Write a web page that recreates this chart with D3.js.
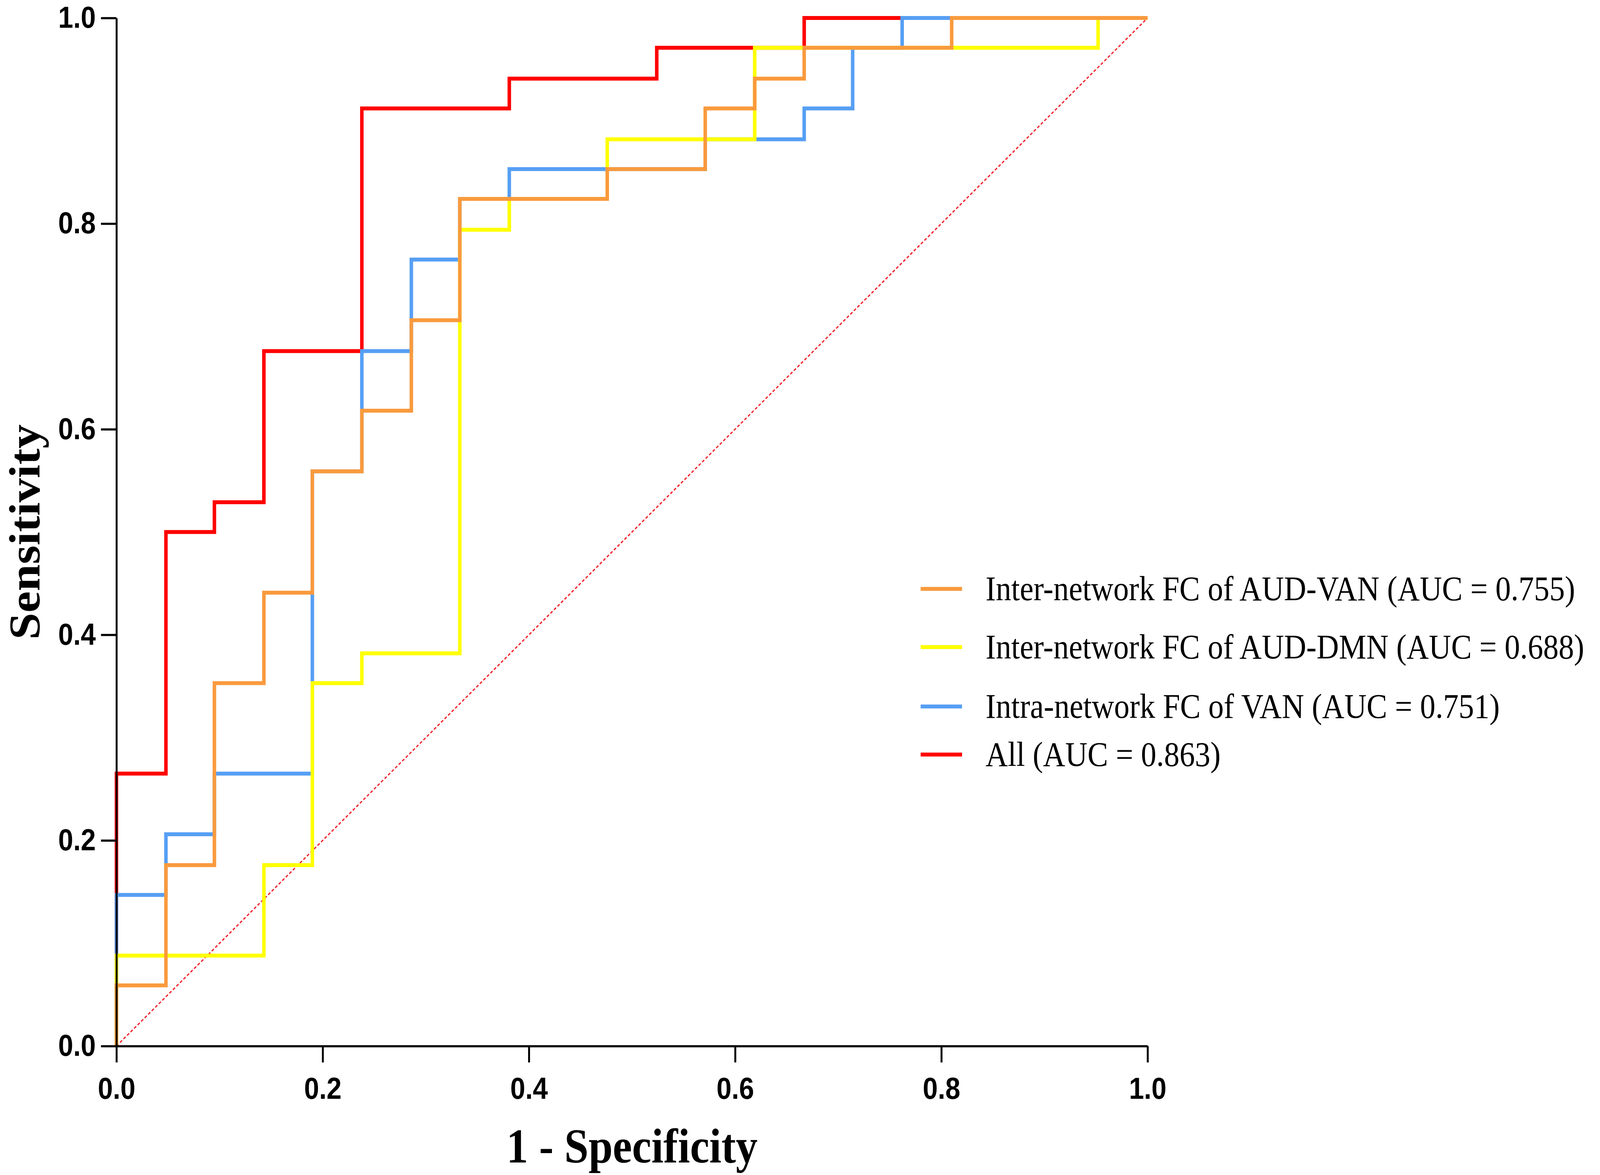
<!DOCTYPE html>
<html>
<head>
<meta charset="utf-8">
<script src="https://cdn.jsdelivr.net/npm/d3@7"></script>
<style>
  html, body { margin: 0; padding: 0; background: #fff; overflow: hidden; }
  .tick text { font-family: "Liberation Sans", Arial, sans-serif; font-weight: bold; }
</style>
</head>
<body>
<div id="vis"></div>
<script>
const FRAME_WIDTH = 4562;
const FRAME_HEIGHT = 3007;
const MARGINS = {left: 332, right: 1290, top: 46, bottom: 330};

// data (1 - specificity, sensitivity) at each step corner
const labels = [
  'Inter-network FC of AUD-VAN (AUC = 0.755)',
  'Inter-network FC of AUD-DMN (AUC = 0.688)',
  'Intra-network FC of VAN (AUC = 0.751)',
  'All (AUC = 0.863)'
];

const audVanFpr = [0, 0, 0.048, 0.095, 0.143, 0.190, 0.238, 0.286, 0.333, 0.476, 0.571, 0.619, 0.667, 0.810, 1.0];
const audVanTpr = [0, 0.059, 0.176, 0.353, 0.441, 0.559, 0.618, 0.706, 0.824, 0.853, 0.912, 0.941, 0.971, 1.0, 1.0];

const audDmnFpr = [0, 0, 0.143, 0.190, 0.238, 0.333, 0.381, 0.476, 0.619, 0.952, 1.0];
const audDmnTpr = [0, 0.088, 0.176, 0.353, 0.382, 0.794, 0.824, 0.882, 0.971, 1.0, 1.0];

const vanFpr = [0, 0, 0.048, 0.095, 0.190, 0.238, 0.286, 0.333, 0.381, 0.571, 0.667, 0.714, 0.762, 1.0];
const vanTpr = [0, 0.147, 0.206, 0.265, 0.559, 0.676, 0.765, 0.824, 0.853, 0.882, 0.912, 0.971, 1.0, 1.0];

const allFpr = [0, 0, 0.048, 0.095, 0.143, 0.238, 0.381, 0.524, 0.667, 1.0];
const allTpr = [0, 0.265, 0.5, 0.529, 0.676, 0.912, 0.941, 0.971, 1.0, 1.0];

const xTicks = [0, 0.2, 0.4, 0.6, 0.8, 1.0];
const yTicks = [0, 0.2, 0.4, 0.6, 0.8, 1.0];

// styles
const COLORS = ['#F99A3D', '#FFFF00', '#569FF4', '#FF0000'];
const DRAW_ORDER = [3, 2, 1, 0]; // red at the bottom, orange on top
const LINE_W = 10;
const LEGEND_X = 2625;
const LEGEND_ROWS_Y = [1507, 1656, 1808, 1931];

const VIS_WIDTH = FRAME_WIDTH - MARGINS.left - MARGINS.right;
const VIS_HEIGHT = FRAME_HEIGHT - MARGINS.top - MARGINS.bottom;

const series = [
  {fpr: audVanFpr, tpr: audVanTpr},
  {fpr: audDmnFpr, tpr: audDmnTpr},
  {fpr: vanFpr, tpr: vanTpr},
  {fpr: allFpr, tpr: allTpr}
].map((s, i) => ({
  label: labels[i],
  color: COLORS[i],
  points: s.fpr.map((x, j) => [x, s.tpr[j]])
}));

// the svg keeps the reference's 4562x3007 coordinates and is stretched over the window
const FRAME = d3.select('#vis')
  .append('svg')
    .attr('viewBox', '0 0 ' + FRAME_WIDTH + ' ' + FRAME_HEIGHT)
    .attr('preserveAspectRatio', 'none')
    .style('width', '100vw')
    .style('height', '100vh')
    .style('display', 'block');

const X_SCALE = d3.scaleLinear().domain([0, 1]).range([MARGINS.left, MARGINS.left + VIS_WIDTH]);
const Y_SCALE = d3.scaleLinear().domain([0, 1]).range([MARGINS.top + VIS_HEIGHT, MARGINS.top]);

// reference diagonal
FRAME.append('line')
  .attr('x1', X_SCALE(0)).attr('y1', Y_SCALE(0))
  .attr('x2', X_SCALE(1)).attr('y2', Y_SCALE(1))
  .attr('stroke', '#F0242C')
  .attr('stroke-width', 3.5)
  .attr('stroke-dasharray', '8,5.5');

// roc curves
const line = d3.line()
  .x(d => X_SCALE(d[0]))
  .y(d => Y_SCALE(d[1]))
  .curve(d3.curveStepAfter);

FRAME.selectAll('.curve')
  .data(DRAW_ORDER.map(i => series[i]))
  .enter()
  .append('path')
    .attr('class', 'curve')
    .attr('d', d => line(d.points))
    .attr('fill', 'none')
    .attr('stroke', d => d.color)
    .attr('stroke-width', LINE_W)
    .attr('stroke-linejoin', 'miter');

// axes
const xAxis = FRAME.append('g')
  .attr('transform', 'translate(0,' + Y_SCALE(0) + ')')
  .call(d3.axisBottom(X_SCALE).tickValues(xTicks).tickFormat(d3.format('.1f'))
    .tickSize(42).tickSizeOuter(0).tickPadding(38));

const yAxis = FRAME.append('g')
  .attr('transform', 'translate(' + X_SCALE(0) + ',0)')
  .call(d3.axisLeft(Y_SCALE).tickValues(yTicks).tickFormat(d3.format('.1f'))
    .tickSize(44).tickSizeOuter(0).tickPadding(15));

[xAxis, yAxis].forEach(g => {
  g.select('.domain').attr('stroke', '#000').attr('stroke-width', 5.5);
  g.selectAll('.tick line').attr('stroke', '#000').attr('stroke-width', 5.5);
  g.selectAll('.tick text').attr('font-size', 77).attr('fill', '#000');
});

// axis titles
FRAME.append('text')
  .attr('x', X_SCALE(0.5))
  .attr('y', 2975)
  .attr('text-anchor', 'middle')
  .attr('font-family', '"Liberation Serif", "Times New Roman", serif')
  .attr('font-weight', 'bold')
  .attr('font-size', 124)
  .text('1 - Specificity');

FRAME.append('text')
  .attr('transform', 'translate(112,' + Y_SCALE(0.5) + ') rotate(-90)')
  .attr('text-anchor', 'middle')
  .attr('font-family', '"Liberation Serif", "Times New Roman", serif')
  .attr('font-weight', 'bold')
  .attr('font-size', 124)
  .text('Sensitivity');

// legend
const legend = FRAME.selectAll('.legend')
  .data(series)
  .enter()
  .append('g')
    .attr('class', 'legend')
    .attr('transform', (d, i) => 'translate(' + LEGEND_X + ',' + LEGEND_ROWS_Y[i] + ')');

legend.append('line')
  .attr('x1', 0).attr('x2', 118)
  .attr('y1', 0).attr('y2', 0)
  .attr('stroke', d => d.color)
  .attr('stroke-width', LINE_W);

legend.append('text')
  .attr('x', 185)
  .attr('y', 29)
  .attr('font-family', '"Liberation Serif", "Times New Roman", serif')
  .attr('font-size', 88)
  .attr('fill', '#000')
  .text(d => d.label);
</script>
</body>
</html>
